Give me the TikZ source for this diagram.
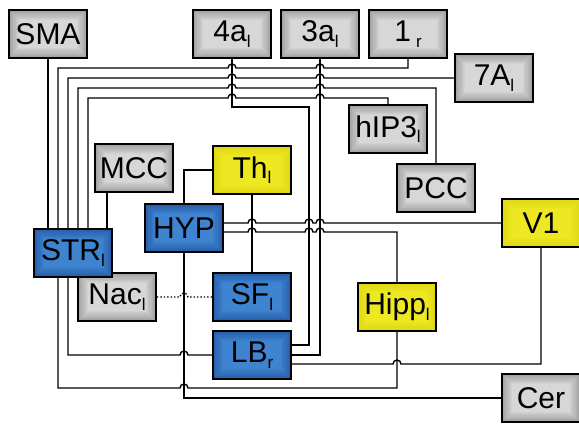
\documentclass[tikz,border=0pt]{standalone}
\usepackage{fontspec}
\setmainfont{Liberation Sans}
\definecolor{grisosc}{RGB}{158,158,158}
\definecolor{grisclaro}{RGB}{222,222,222}
\definecolor{azulosc}{RGB}{38,92,168}
\definecolor{azulclaro}{RGB}{66,136,212}
\definecolor{amarillo}{RGB}{222,216,20}
\definecolor{amarilloclaro}{RGB}{240,234,36}
% salto de una linea horizontal sobre una vertical en x=#1
\newcommand\hop[2]{-- ({#1-4},#2) arc[start angle=180,end angle=360,radius=4]}
\newcommand\ix[1]{\raisebox{-0.35ex}{\fontsize{17}{17}\selectfont #1}}
\begin{document}
\begin{tikzpicture}
  [x=1pt,y=-1pt,line width=1.4pt,
   area/.style={rectangle,draw=black,line width=2pt,minimum width=78pt,minimum height=48pt,
     inner sep=0pt,font=\fontsize{30}{30}\selectfont},
   fondo/.style 2 args={fill=#1,path picture={
     \foreach \k in {1,...,9}
       \fill[#2!\k0!#1] ([shift={(\k*1.1pt,-\k*1.1pt)}]path picture bounding box.north west)
         rectangle ([shift={(-\k*1.1pt,\k*1.1pt)}]path picture bounding box.south east);}},
   gris/.style={area,fondo={grisosc}{grisclaro}},
   azul/.style={area,fondo={azulosc}{azulclaro}},
   amar/.style={area,fondo={amarillo}{amarilloclaro}}]
  \useasboundingbox (0,0) rectangle (579,424);

  % Areas corticales (arriba)
  \node[gris] (sma) at (48,34) {SMA};
  \node[gris] (a4) at (232,34) {4a\ix{l}};
  \node[gris] (a3) at (320,34) {3a\ix{l}};
  \node[gris] (r1) at (408,34) {1\,\ix{r}};
  \node[gris] (a7) at (494,78) {7A\ix{l}};
  \node[gris] (hip3) at (388,129) {hIP3\ix{l}};
  \node[gris] (pcc) at (436,188) {PCC};
  \node[amar] (v1) at (541,223) {V1};

  % Zona central
  \node[gris] (mcc) at (134,168) {MCC};
  \node[amar] (th) at (252,170) {Th\ix{l}};
  \node[azul] (hyp) at (184,228) {HYP};
  \node[gris] (nac) at (117,297) {Nac\ix{l}};
  \node[azul] (str) at (73,253) {STR\ix{l}};
  \node[azul] (sf) at (252,297) {SF\ix{l}};
  \node[azul] (lb) at (252,355) {LB\ix{r}};
  \node[amar] (hipp) at (397,307) {Hipp\ix{l}};
  \node[gris] (cer) at (541,398) {Cer};

  % Conexiones del estriado hacia arriba
  \draw (sma.south) -- (sma.south |- str.north);
  \draw ([xshift=-15pt]str.north) -- (58,68) \hop{232}{68} \hop{320}{68} -- (408,68) -- (r1.south);
  \draw ([xshift=-5pt]str.north) -- (68,78) \hop{232}{78} \hop{320}{78} -- (a7.west);
  \draw ([xshift=5pt]str.north) -- (78,88) \hop{232}{88} \hop{320}{88} -- (436,88) -- (pcc.north);
  \draw ([xshift=15pt]str.north) -- (88,98) \hop{232}{98} \hop{320}{98} -- (388,98) -- (hip3.north);
  \draw ([xshift=-27pt]mcc.south) -- ([xshift=-27pt]mcc.south |- str.north);

  % Corteza somatosensorial a LB
  \draw (a4.south) -- (232,107) -- (309,107) -- (309,345) -- ([yshift=10pt]lb.east);
  \draw (a3.south) |- (lb.east);

  % Talamo e hipotalamo
  \draw (th.west) -| (hyp.north);
  \draw (th.south) -- (sf.north);
  \draw ([yshift=5pt]hyp.east) \hop{252}{223} \hop{309}{223} \hop{320}{223} -- (v1.west);
  \draw ([yshift=-4pt]hyp.east) \hop{252}{232} \hop{309}{232} \hop{320}{232} -- (397,232) -- (hipp.north);
  \draw (hyp.south) |- (cer.west);
  \draw[dotted] (nac.east) \hop{184}{297} -- (sf.west);

  % Conexiones de abajo
  \draw ([xshift=-5pt]str.south) -- (68,355) \hop{184}{355} -- (lb.west);
  \draw ([xshift=-15pt]str.south) -- (58,388) \hop{184}{388} -- (397,388) -- (hipp.south);
  \draw ([yshift=-9pt]lb.east) \hop{397}{364} -| (v1.south);
\end{tikzpicture}
\end{document}
